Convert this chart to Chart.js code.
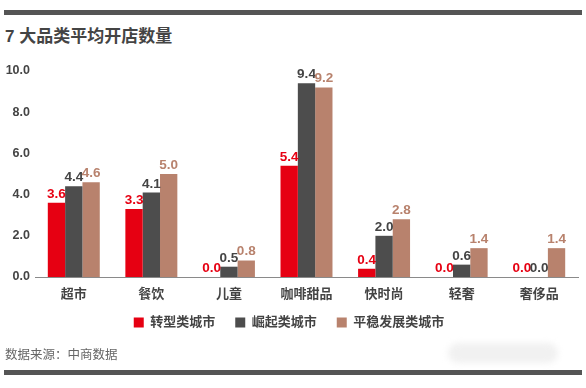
<!DOCTYPE html>
<html>
<head>
<meta charset="utf-8">
<script src="https://cdn.jsdelivr.net/npm/chart.js@4.4.1/dist/chart.umd.min.js"></script>
<style>
  html, body { margin: 0; padding: 0; background: #fff; }
  #wrap { position: relative; width: 586px; height: 388px; overflow: hidden; font-family: 'Liberation Sans', 'Noto Sans CJK SC', sans-serif; }
  #c { position: absolute; left: 0; top: 0; }
  .bar { position: absolute; left: 4px; width: 578px; height: 5px; background: #555; }
  #title { position: absolute; left: 5px; top: 22px; font-size: 17px; font-weight: bold; color: #444; white-space: nowrap; }
  #src { position: absolute; left: 5px; top: 344px; font-size: 12.5px; color: #666; white-space: nowrap; }
  #wm { position: absolute; left: 448px; top: 343px; width: 110px; height: 20px; background: #f1f1f1; border-radius: 10px; filter: blur(3px); }
</style>
</head>
<body>
<div id="wrap">
  <div class="bar" style="top:10px"></div>
  <div id="title">7 大品类平均开店数量</div>
  <canvas id="c" width="586" height="388"></canvas>
  <div id="src">数据来源：中商数据</div>
  <div id="wm"></div>
  <div class="bar" style="top:370px"></div>
</div>
<script>
const categories = ['超市', '餐饮', '儿童', '咖啡甜品', '快时尚', '轻奢', '奢侈品'];
const seriesNames = ['转型类城市', '崛起类城市', '平稳发展类城市'];
const transformCities = [3.6, 3.3, 0.0, 5.4, 0.4, 0.0, 0.0];
const risingCities = [4.4, 4.1, 0.5, 9.4, 2.0, 0.6, 0.0];
const stableCities = [4.6, 5.0, 0.8, 9.2, 2.8, 1.4, 1.4];
const yTicks = [0, 2, 4, 6, 8, 10];

const colors = ['#e60012', '#4d4d4d', '#b8826d'];
const labelColors = ['#e60012', '#444444', '#b8826d'];
const FONT = "'Liberation Sans', 'Noto Sans CJK SC', sans-serif";

const valueLabels = {
  id: 'valueLabels',
  beforeDraw(chart) {
    // lift the legend row closer to the axis labels
    if (chart.legend && !chart.legend._lifted) {
      chart.legend.top -= 11;
      chart.legend.bottom -= 11;
      chart.legend._lifted = true;
    }
  },
  afterDatasetsDraw(chart) {
    const ctx = chart.ctx;
    ctx.save();
    ctx.font = 'bold 13.5px ' + FONT;
    ctx.textAlign = 'center';
    ctx.textBaseline = 'bottom';
    chart.data.datasets.forEach((ds, i) => {
      const meta = chart.getDatasetMeta(i);
      meta.data.forEach((bar, j) => {
        ctx.fillStyle = labelColors[i];
        ctx.fillText(ds.data[j].toFixed(1), bar.x, bar.y - 2);
      });
    });
    ctx.restore();
  }
};

new Chart(document.getElementById('c'), {
  type: 'bar',
  data: {
    labels: categories,
    datasets: [
      { label: seriesNames[0], data: transformCities, backgroundColor: colors[0] },
      { label: seriesNames[1], data: risingCities, backgroundColor: colors[1] },
      { label: seriesNames[2], data: stableCities, backgroundColor: colors[2] }
    ]
  },
  options: {
    responsive: false,
    animation: false,
    layout: { padding: { top: 71, left: 0, right: 8, bottom: 38 } },
    datasets: { bar: { categoryPercentage: 0.67, barPercentage: 1.0 } },
    scales: {
      x: {
        grid: { display: false, drawTicks: false },
        border: { display: true, color: '#8a8a8a', width: 1 },
        ticks: { padding: 10, color: '#444', font: { family: FONT, size: 13, weight: 'bold' } },
        afterFit(s) { s.height = 30; }
      },
      y: {
        min: 0, max: 10,
        afterBuildTicks(s) { s.ticks = yTicks.map(v => ({ value: v })); },
        grid: { display: false, drawTicks: false },
        border: { display: false },
        ticks: { padding: 5, color: '#444', font: { family: FONT, size: 12.5, weight: 'bold' },
                 callback: v => Number(v).toFixed(1) },
        afterFit(s) { s.width = 35; }
      }
    },
    plugins: {
      legend: {
        position: 'bottom',
        labels: { boxWidth: 10, boxHeight: 10, padding: 20, color: '#444',
                  font: { family: FONT, size: 13, weight: 'bold' } }
      },
      tooltip: { enabled: false }
    }
  },
  plugins: [valueLabels]
});
</script>
</body>
</html>
